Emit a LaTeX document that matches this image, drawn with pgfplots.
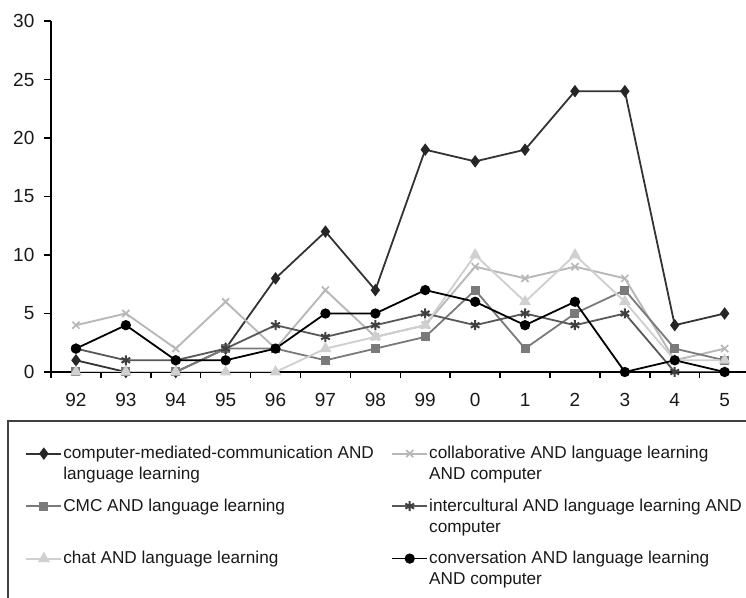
\documentclass[border=0pt]{standalone}
\usepackage{fontspec}
\setmainfont{Liberation Sans}
\usepackage{pgfplots}
\pgfplotsset{compat=1.18}

\definecolor{cmcfull}{HTML}{333333}
\definecolor{cmcgray}{HTML}{7A7A7A}
\definecolor{chatgray}{HTML}{D0D0D0}
\definecolor{collabgray}{HTML}{B8B8B8}
\definecolor{intergray}{HTML}{585858}

\begin{document}
\begin{tikzpicture}
\begin{axis}[
  at={(0,0)}, anchor=south west,
  scale only axis,
  width=349.3pt, height=175.5pt,
  xmin=-0.5, xmax=13.5,
  ymin=0, ymax=30,
  axis x line*=bottom, axis y line*=left,
  axis line style={-, line width=0.75pt, black},
  tick align=outside,
  tick style={line width=0.75pt, black},
  ytick={0,5,...,30},
  major tick length=3.5pt,
  xtick={0,...,13},
  xticklabels={92,93,94,95,96,97,98,99,0,1,2,3,4,5},
  major x tick style={draw=none},
  minor xtick={-0.5,0.5,...,13.5},
  minor tick length=3pt,
  /pgf/number format/assume math mode=true,
  ticklabel style={font=\fontsize{9.5}{11}\selectfont, text=black!90},
  xticklabel style={yshift=-3.5pt},
  yticklabel style={xshift=-1.3pt},
  legend columns=2,
  legend style={at={(0,0)}, anchor=north west, xshift=-13pt, yshift=-37pt,
    draw=none, fill=none, inner sep=0pt,
    font=\fontsize{8.6}{10.5}\selectfont, text=black!90,
    nodes={anchor=base west, inner sep=0pt},
    row sep=18.5pt,
    /tikz/every odd column/.append style={column sep=0.5pt}},
  legend image code/.code={%
    \draw[mark repeat=2, mark phase=2, #1] plot coordinates {(0pt,2.6pt) (8.75pt,2.6pt) (17.5pt,2.6pt)};},
]

% computer-mediated-communication AND language learning
\addplot[cmcfull, line width=0.9pt, mark=diamond*, mark size=2.4pt,
  mark options={fill=black!85, draw=black!85}] coordinates {
  (0,1) (1,0) (2,0) (3,2) (4,8) (5,12) (6,7) (7,19) (8,18) (9,19) (10,24) (11,24) (12,4) (13,5)};
\addlegendentry{\parbox[t]{164pt}{computer-mediated-communication AND\\language learning}}

% collaborative AND language learning AND computer
\addplot[collabgray, line width=0.95pt, mark=x, mark size=2.5pt,
  mark options={line width=0.85pt}] coordinates {
  (0,4) (1,5) (2,2) (3,6) (4,2) (5,7) (6,3) (7,4) (8,9) (9,8) (10,9) (11,8) (12,1) (13,2)};
\addlegendentry{\parbox[t]{164pt}{collaborative AND language learning\\AND computer}}

% CMC AND language learning
\addplot[cmcgray, line width=0.9pt, mark=square*, mark size=1.8pt] coordinates {
  (0,0) (1,0) (2,0) (3,2) (4,2) (5,1) (6,2) (7,3) (8,7) (9,2) (10,5) (11,7) (12,2) (13,1)};
\addlegendentry{\parbox[t]{164pt}{CMC AND language learning}}

% intercultural AND language learning AND computer
\addplot[intergray, line width=0.9pt, mark=asterisk, mark size=2.5pt,
  mark options={line width=1pt, draw=black!75}] coordinates {
  (0,2) (1,1) (2,1) (3,2) (4,4) (5,3) (6,4) (7,5) (8,4) (9,5) (10,4) (11,5) (12,0) (13,0)};
\addlegendentry{\parbox[t]{164pt}{intercultural AND language learning AND\\computer}}

% chat AND language learning
\addplot[chatgray, line width=0.95pt, mark=triangle*, mark size=2.5pt] coordinates {
  (0,0) (1,0) (2,0) (3,0) (4,0) (5,2) (6,3) (7,4) (8,10) (9,6) (10,10) (11,6) (12,1) (13,1)};
\addlegendentry{\parbox[t]{164pt}{chat AND language learning}}

% conversation AND language learning AND computer
\addplot[black, line width=0.9pt, mark=*, mark size=2.1pt] coordinates {
  (0,2) (1,4) (2,1) (3,1) (4,2) (5,5) (6,5) (7,7) (8,6) (9,4) (10,6) (11,0) (12,1) (13,0)};
\addlegendentry{\parbox[t]{164pt}{conversation AND language learning\\AND computer}}

\end{axis}
\draw[line width=0.7pt, black!75] (-21.5pt,-24.5pt) rectangle (400pt,-200pt);
\pgfresetboundingbox
\path[use as bounding box] (-25.5pt,-113pt) rectangle (347.5pt,186pt);
\end{tikzpicture}
\end{document}
